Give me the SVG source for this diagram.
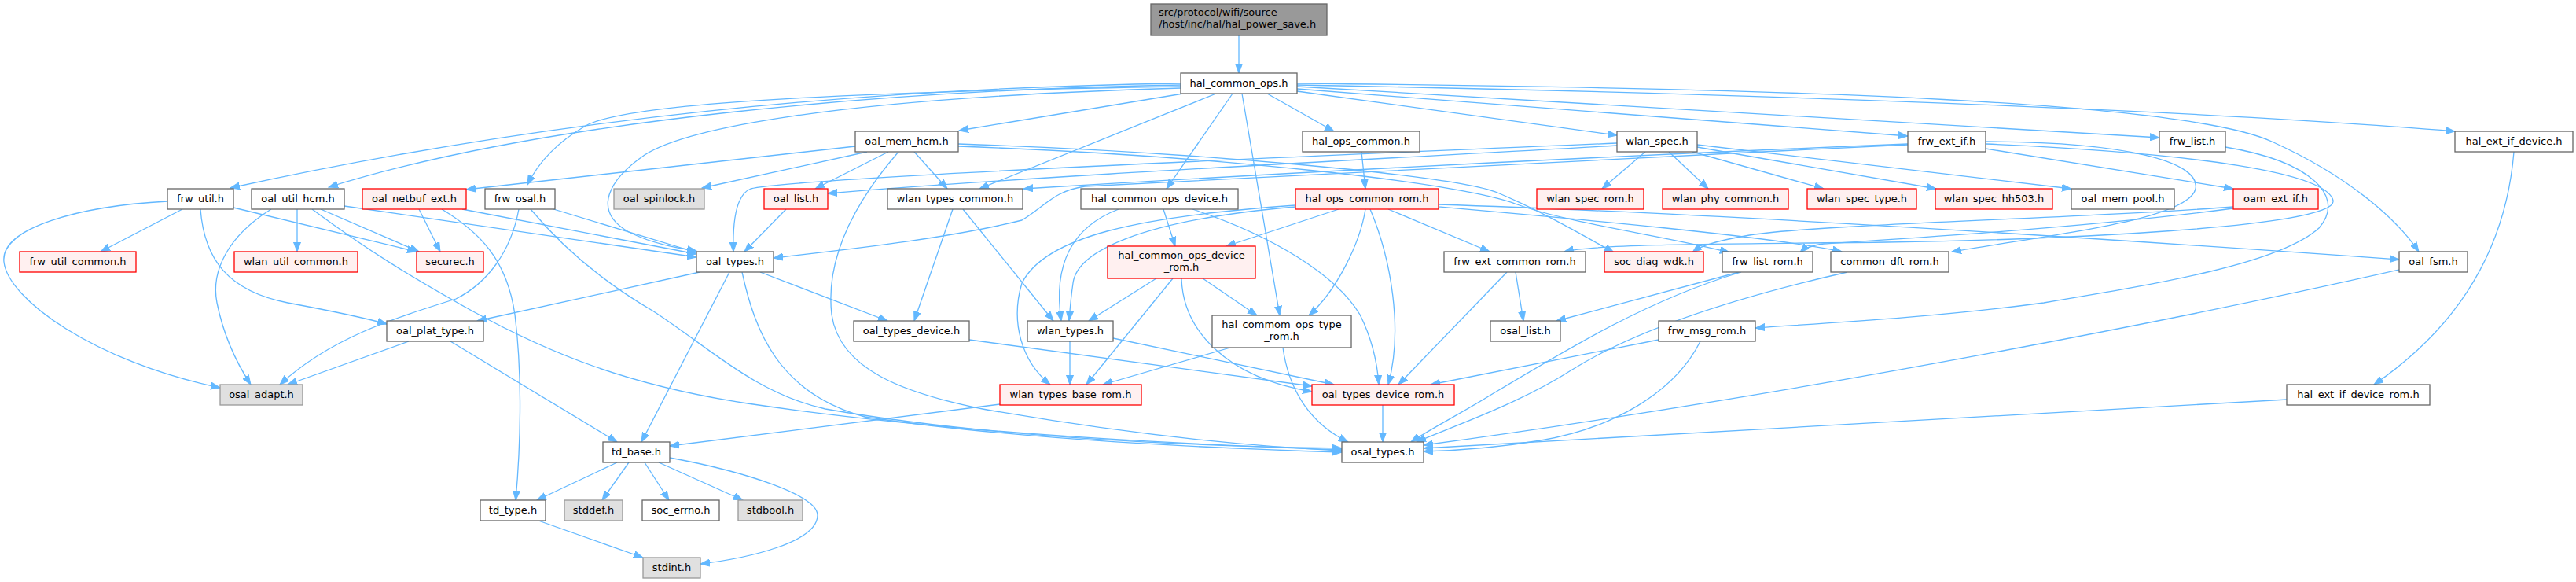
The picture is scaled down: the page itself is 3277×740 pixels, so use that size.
<svg xmlns="http://www.w3.org/2000/svg" width="3277" height="740" viewBox="0 0 3277 740">
<style>
.e{fill:none;stroke:#63b8ff;stroke-width:1.3}
rect{stroke-width:1.3}
.n rect{fill:#ffffff;stroke:#666666}
.r rect{fill:#fff0f0;stroke:#ff0000}
.g rect{fill:#e0e0e0;stroke:#999999}
.root rect{fill:#999999;stroke:#666666}
text{font-family:"DejaVu Sans","Liberation Sans",sans-serif;font-size:13px;text-anchor:middle;fill:#000000}
.root text{text-anchor:start}
</style>
<defs>
<marker id="a" markerWidth="13" markerHeight="10" refX="12" refY="5" orient="auto" markerUnits="userSpaceOnUse">
<path d="M0,0.5 L12,5 L0,9.5 z" fill="#63b8ff" stroke="#63b8ff" stroke-width="1"/>
</marker>
</defs>
<rect width="3277" height="740" fill="#ffffff"/>
<g id="connectors" marker-end="url(#a)">
<path class="e" marker-end="url(#a)" d="M1576,45 L1576,93"/>
<path class="e" marker-end="url(#a)" d="M1505,119 L1220,166"/>
<path class="e" marker-end="url(#a)" d="M1547,119 L1246,240"/>
<path class="e" marker-end="url(#a)" d="M1568,119 L1484,240"/>
<path class="e" marker-end="url(#a)" d="M1580,119 L1628,401"/>
<path class="e" marker-end="url(#a)" d="M1612,119 L1697,167"/>
<path class="e" marker-end="url(#a)" d="M1650,116 L2057,172"/>
<path class="e" marker-end="url(#a)" d="M1650,113 L2427,173"/>
<path class="e" marker-end="url(#a)" d="M1650,110 L2747,175"/>
<path class="e" marker-end="url(#a)" d="M1650,108 C2200,118 2800,140 3123,167"/>
<path class="e" marker-end="url(#a)" d="M1650,106 C2300,112 2780,130 2890,180 C2990,225 3050,280 3077,320"/>
<path class="e" marker-end="url(#a)" d="M1502,106 C1100,112 700,150 293,239"/>
<path class="e" marker-end="url(#a)" d="M1502,108 C1150,114 700,150 418,238"/>
<path class="e" marker-end="url(#a)" d="M1502,110 C1000,118 790,135 745,160 C705,183 683,210 671,235"/>
<path class="e" marker-end="url(#a)" d="M1502,112 C1050,125 870,165 820,197 C775,228 752,268 800,295 C830,310 860,315 886,319"/>
<path class="e" marker-end="url(#a)" d="M1088,186 L593,241"/>
<path class="e" marker-end="url(#a)" d="M1103,193 L893,239"/>
<path class="e" marker-end="url(#a)" d="M1130,193 L1037,240"/>
<path class="e" marker-end="url(#a)" d="M1143,193 C1085,260 1050,330 1058,400 C1068,470 1150,500 1250,520 C1450,555 1600,568 1707,573"/>
<path class="e" marker-end="url(#a)" d="M1163,193 L1205,240"/>
<path class="e" marker-end="url(#a)" d="M1219,183 C1500,192 1850,222 1905,245 C1960,268 2015,300 2053,321"/>
<path class="e" marker-end="url(#a)" d="M1219,186 C1550,198 1860,232 1930,260 C2000,285 2120,300 2200,321"/>
<path class="e" marker-end="url(#a)" d="M2057,182 C1500,205 1000,228 955,240 C935,248 932,285 933,320"/>
<path class="e" marker-end="url(#a)" d="M2057,185 C1700,205 1300,225 1053,246"/>
<path class="e" marker-end="url(#a)" d="M2427,183 C2000,200 1600,222 1302,240"/>
<path class="e" marker-end="url(#a)" d="M2427,184 C2000,205 1500,228 1380,237 C1340,243 1330,262 1300,280 C1200,305 1050,320 984,328"/>
<path class="e" marker-end="url(#a)" d="M2093,193 L2038,240"/>
<path class="e" marker-end="url(#a)" d="M2123,193 L2173,240"/>
<path class="e" marker-end="url(#a)" d="M2153,193 L2320,240"/>
<path class="e" marker-end="url(#a)" d="M2159,187 L2463,240"/>
<path class="e" marker-end="url(#a)" d="M2159,184 L2635,240"/>
<path class="e" marker-end="url(#a)" d="M2526,189 L2841,240"/>
<path class="e" marker-end="url(#a)" d="M2526,180 C2700,180 2800,205 2793,240 C2785,280 2600,300 2483,320"/>
<path class="e" marker-end="url(#a)" d="M2526,183 C2800,195 2960,220 2968,255 C2975,290 2600,305 2400,308 C2200,310 2030,310 1990,320"/>
<path class="e" marker-end="url(#a)" d="M2831,187 C2940,205 2985,250 2950,290 C2900,335 2750,360 2600,385 C2450,405 2300,412 2233,417"/>
<path class="e" marker-end="url(#a)" d="M3198,193 C3190,290 3150,400 3020,489"/>
<path class="e" marker-end="url(#a)" d="M2841,263 C2650,278 2300,285 2220,300 C2180,307 2163,313 2153,321"/>
<path class="e" marker-end="url(#a)" d="M2841,265 C2650,290 2400,305 2320,310 C2305,312 2295,316 2290,321"/>
<path class="e" marker-end="url(#a)" d="M1732,193 L1737,240"/>
<path class="e" marker-end="url(#a)" d="M1703,266 L1560,313"/>
<path class="e" marker-end="url(#a)" d="M1737,266 C1730,310 1700,370 1665,401"/>
<path class="e" marker-end="url(#a)" d="M1743,266 C1770,330 1785,420 1766,489"/>
<path class="e" marker-end="url(#a)" d="M1766,266 L1895,320"/>
<path class="e" marker-end="url(#a)" d="M1830,260 C2200,272 2700,305 3052,330"/>
<path class="e" marker-end="url(#a)" d="M1830,263 C2000,278 2250,300 2343,320"/>
<path class="e" marker-end="url(#a)" d="M1648,261 C1450,275 1330,300 1300,360 C1285,410 1300,460 1336,489"/>
<path class="e" marker-end="url(#a)" d="M1648,263 C1450,280 1370,320 1365,360 C1362,380 1361,395 1360,408"/>
<path class="e" marker-end="url(#a)" d="M1423,266 C1360,290 1340,340 1350,408"/>
<path class="e" marker-end="url(#a)" d="M1480,266 L1495,313"/>
<path class="e" marker-end="url(#a)" d="M1517,266 C1620,300 1700,350 1730,400 C1745,430 1752,460 1754,489"/>
<path class="e" marker-end="url(#a)" d="M1471,354 L1385,408"/>
<path class="e" marker-end="url(#a)" d="M1492,354 L1382,489"/>
<path class="e" marker-end="url(#a)" d="M1503,354 C1505,420 1560,480 1669,498"/>
<path class="e" marker-end="url(#a)" d="M1530,354 L1599,401"/>
<path class="e" marker-end="url(#a)" d="M1565,442 L1403,489"/>
<path class="e" marker-end="url(#a)" d="M1632,442 C1640,500 1670,540 1715,562"/>
<path class="e" marker-end="url(#a)" d="M1225,266 L1340,408"/>
<path class="e" marker-end="url(#a)" d="M1212,266 L1163,408"/>
<path class="e" marker-end="url(#a)" d="M1000,266 L947,320"/>
<path class="e" marker-end="url(#a)" d="M967,346 L1129,408"/>
<path class="e" marker-end="url(#a)" d="M944,346 C960,420 990,500 1100,530 C1300,560 1550,570 1707,575"/>
<path class="e" marker-end="url(#a)" d="M890,346 L607,408"/>
<path class="e" marker-end="url(#a)" d="M928,346 L816,562"/>
<path class="e" marker-end="url(#a)" d="M1361,434 L1361,489"/>
<path class="e" marker-end="url(#a)" d="M1416,430 L1697,489"/>
<path class="e" marker-end="url(#a)" d="M1233,432 L1669,491"/>
<path class="e" marker-end="url(#a)" d="M1272,514 L852,567"/>
<path class="e" marker-end="url(#a)" d="M1759,515 L1759,562"/>
<path class="e" marker-end="url(#a)" d="M1928,346 L1938,408"/>
<path class="e" marker-end="url(#a)" d="M1917,346 L1779,489"/>
<path class="e" marker-end="url(#a)" d="M2212,346 L1980,408"/>
<path class="e" marker-end="url(#a)" d="M2215,346 C2100,380 2000,440 1900,500 C1860,525 1820,545 1795,562"/>
<path class="e" marker-end="url(#a)" d="M2350,346 C2200,380 2080,420 2000,470 C1930,515 1840,545 1802,562"/>
<path class="e" marker-end="url(#a)" d="M2110,432 L1820,489"/>
<path class="e" marker-end="url(#a)" d="M2163,434 C2130,500 2050,545 1960,560 C1900,570 1850,573 1811,574"/>
<path class="e" marker-end="url(#a)" d="M3052,343 C2800,400 2300,500 1811,566"/>
<path class="e" marker-end="url(#a)" d="M2909,508 L1811,570"/>
<path class="e" marker-end="url(#a)" d="M213,256 C100,262 0,290 5,333 C10,380 120,460 280,493"/>
<path class="e" marker-end="url(#a)" d="M232,266 L128,320"/>
<path class="e" marker-end="url(#a)" d="M255,266 C260,330 290,370 366,385 C420,395 460,403 492,412"/>
<path class="e" marker-end="url(#a)" d="M297,264 L530,320"/>
<path class="e" marker-end="url(#a)" d="M345,266 C290,300 268,345 276,385 C284,425 300,460 319,489"/>
<path class="e" marker-end="url(#a)" d="M378,266 L378,320"/>
<path class="e" marker-end="url(#a)" d="M397,266 C470,320 520,350 600,395 C700,450 800,490 951,513 C1200,550 1500,565 1707,572"/>
<path class="e" marker-end="url(#a)" d="M408,266 L533,320"/>
<path class="e" marker-end="url(#a)" d="M438,262 L886,327"/>
<path class="e" marker-end="url(#a)" d="M533,266 L560,320"/>
<path class="e" marker-end="url(#a)" d="M562,266 C610,295 645,330 655,400 C665,480 662,570 656,636"/>
<path class="e" marker-end="url(#a)" d="M588,266 L886,323"/>
<path class="e" marker-end="url(#a)" d="M660,266 C650,320 620,360 580,380 C500,405 420,430 356,489"/>
<path class="e" marker-end="url(#a)" d="M701,265 L886,321"/>
<path class="e" marker-end="url(#a)" d="M675,266 C720,320 770,360 830,395 C900,440 960,500 1050,520 C1250,555 1500,567 1707,570"/>
<path class="e" marker-end="url(#a)" d="M520,434 L366,489"/>
<path class="e" marker-end="url(#a)" d="M573,434 L785,562"/>
<path class="e" marker-end="url(#a)" d="M785,588 L683,636"/>
<path class="e" marker-end="url(#a)" d="M800,588 L766,636"/>
<path class="e" marker-end="url(#a)" d="M820,588 L851,636"/>
<path class="e" marker-end="url(#a)" d="M838,588 L945,636"/>
<path class="e" marker-end="url(#a)" d="M852,582 C950,600 1040,630 1040,655 C1040,690 950,710 891,717"/>
<path class="e" marker-end="url(#a)" d="M685,662 L818,709"/>
</g>
<g id="n_root" class="root"><rect x="1464" y="5" width="224" height="40"/><text x="1474" y="20">src/protocol/wifi/source</text><text x="1474" y="35">/host/inc/hal/hal_power_save.h</text></g>
<g id="n_hal_common_ops" class="n"><rect x="1502" y="93" width="148" height="26"/><text x="1576" y="110">hal_common_ops.h</text></g>
<g id="n_oal_mem_hcm" class="n"><rect x="1088" y="167" width="131" height="26"/><text x="1153.5" y="184">oal_mem_hcm.h</text></g>
<g id="n_hal_ops_common" class="n"><rect x="1657" y="167" width="149" height="26"/><text x="1731.5" y="184">hal_ops_common.h</text></g>
<g id="n_wlan_spec" class="n"><rect x="2057" y="167" width="102" height="26"/><text x="2108" y="184">wlan_spec.h</text></g>
<g id="n_frw_ext_if" class="n"><rect x="2427" y="167" width="99" height="26"/><text x="2476.5" y="184">frw_ext_if.h</text></g>
<g id="n_frw_list" class="n"><rect x="2747" y="167" width="84" height="26"/><text x="2789" y="184">frw_list.h</text></g>
<g id="n_hal_ext_if_device" class="n"><rect x="3123" y="167" width="150" height="26"/><text x="3198" y="184">hal_ext_if_device.h</text></g>
<g id="n_frw_util" class="n"><rect x="213" y="240" width="84" height="26"/><text x="255" y="257">frw_util.h</text></g>
<g id="n_oal_util_hcm" class="n"><rect x="320" y="240" width="118" height="26"/><text x="379" y="257">oal_util_hcm.h</text></g>
<g id="n_oal_netbuf_ext" class="r"><rect x="461" y="240" width="132" height="26"/><text x="527" y="257">oal_netbuf_ext.h</text></g>
<g id="n_frw_osal" class="n"><rect x="617" y="240" width="89" height="26"/><text x="661.5" y="257">frw_osal.h</text></g>
<g id="n_oal_spinlock" class="g"><rect x="781" y="240" width="115" height="26"/><text x="838.5" y="257">oal_spinlock.h</text></g>
<g id="n_oal_list" class="r"><rect x="972" y="240" width="81" height="26"/><text x="1012.5" y="257">oal_list.h</text></g>
<g id="n_wlan_types_common" class="n"><rect x="1129" y="240" width="172" height="26"/><text x="1215" y="257">wlan_types_common.h</text></g>
<g id="n_hal_common_ops_device" class="n"><rect x="1375" y="240" width="200" height="26"/><text x="1475" y="257">hal_common_ops_device.h</text></g>
<g id="n_hal_ops_common_rom" class="r"><rect x="1648" y="240" width="182" height="26"/><text x="1739" y="257">hal_ops_common_rom.h</text></g>
<g id="n_wlan_spec_rom" class="r"><rect x="1955" y="240" width="136" height="26"/><text x="2023" y="257">wlan_spec_rom.h</text></g>
<g id="n_wlan_phy_common" class="r"><rect x="2115" y="240" width="160" height="26"/><text x="2195" y="257">wlan_phy_common.h</text></g>
<g id="n_wlan_spec_type" class="r"><rect x="2299" y="240" width="139" height="26"/><text x="2368.5" y="257">wlan_spec_type.h</text></g>
<g id="n_wlan_spec_hh503" class="r"><rect x="2462" y="240" width="149" height="26"/><text x="2536.5" y="257">wlan_spec_hh503.h</text></g>
<g id="n_oal_mem_pool" class="n"><rect x="2635" y="240" width="131" height="26"/><text x="2700.5" y="257">oal_mem_pool.h</text></g>
<g id="n_oam_ext_if" class="r"><rect x="2841" y="240" width="108" height="26"/><text x="2895" y="257">oam_ext_if.h</text></g>
<g id="n_frw_util_common" class="r"><rect x="25" y="320" width="148" height="26"/><text x="99" y="337">frw_util_common.h</text></g>
<g id="n_wlan_util_common" class="r"><rect x="298" y="320" width="157" height="26"/><text x="376.5" y="337">wlan_util_common.h</text></g>
<g id="n_securec" class="r"><rect x="530" y="320" width="85" height="26"/><text x="572.5" y="337">securec.h</text></g>
<g id="n_oal_types" class="n"><rect x="886" y="320" width="98" height="26"/><text x="935" y="337">oal_types.h</text></g>
<g id="n_hal_common_ops_device_rom" class="r"><rect x="1409" y="313" width="188" height="41"/><text x="1503" y="329">hal_common_ops_device</text><text x="1503" y="344">_rom.h</text></g>
<g id="n_frw_ext_common_rom" class="n"><rect x="1837" y="320" width="180" height="26"/><text x="1927" y="337">frw_ext_common_rom.h</text></g>
<g id="n_soc_diag_wdk" class="r"><rect x="2041" y="320" width="126" height="26"/><text x="2104" y="337">soc_diag_wdk.h</text></g>
<g id="n_frw_list_rom" class="n"><rect x="2191" y="320" width="115" height="26"/><text x="2248.5" y="337">frw_list_rom.h</text></g>
<g id="n_common_dft_rom" class="n"><rect x="2329" y="320" width="150" height="26"/><text x="2404" y="337">common_dft_rom.h</text></g>
<g id="n_oal_fsm" class="n"><rect x="3052" y="320" width="87" height="26"/><text x="3095.5" y="337">oal_fsm.h</text></g>
<g id="n_oal_plat_type" class="n"><rect x="492" y="408" width="123" height="26"/><text x="553.5" y="425">oal_plat_type.h</text></g>
<g id="n_oal_types_device" class="n"><rect x="1086" y="408" width="147" height="26"/><text x="1159.5" y="425">oal_types_device.h</text></g>
<g id="n_wlan_types" class="n"><rect x="1307" y="408" width="109" height="26"/><text x="1361.5" y="425">wlan_types.h</text></g>
<g id="n_hal_commom_ops_type_rom" class="n"><rect x="1542" y="401" width="177" height="41"/><text x="1630.5" y="417">hal_commom_ops_type</text><text x="1630.5" y="432">_rom.h</text></g>
<g id="n_osal_list" class="n"><rect x="1896" y="408" width="89" height="26"/><text x="1940.5" y="425">osal_list.h</text></g>
<g id="n_frw_msg_rom" class="n"><rect x="2110" y="408" width="123" height="26"/><text x="2171.5" y="425">frw_msg_rom.h</text></g>
<g id="n_osal_adapt" class="g"><rect x="280" y="489" width="105" height="26"/><text x="332.5" y="506">osal_adapt.h</text></g>
<g id="n_wlan_types_base_rom" class="r"><rect x="1272" y="489" width="180" height="26"/><text x="1362" y="506">wlan_types_base_rom.h</text></g>
<g id="n_oal_types_device_rom" class="r"><rect x="1669" y="489" width="181" height="26"/><text x="1759.5" y="506">oal_types_device_rom.h</text></g>
<g id="n_hal_ext_if_device_rom" class="n"><rect x="2909" y="489" width="182" height="26"/><text x="3000" y="506">hal_ext_if_device_rom.h</text></g>
<g id="n_td_base" class="n"><rect x="767" y="562" width="85" height="26"/><text x="809.5" y="579">td_base.h</text></g>
<g id="n_osal_types" class="n"><rect x="1707" y="562" width="104" height="26"/><text x="1759" y="579">osal_types.h</text></g>
<g id="n_td_type" class="n"><rect x="611" y="636" width="83" height="26"/><text x="652.5" y="653">td_type.h</text></g>
<g id="n_stddef" class="g"><rect x="718" y="636" width="74" height="26"/><text x="755" y="653">stddef.h</text></g>
<g id="n_soc_errno" class="n"><rect x="817" y="636" width="98" height="26"/><text x="866" y="653">soc_errno.h</text></g>
<g id="n_stdbool" class="g"><rect x="939" y="636" width="82" height="26"/><text x="980" y="653">stdbool.h</text></g>
<g id="n_stdint" class="g"><rect x="818" y="709" width="73" height="26"/><text x="854.5" y="726">stdint.h</text></g>
</svg>
